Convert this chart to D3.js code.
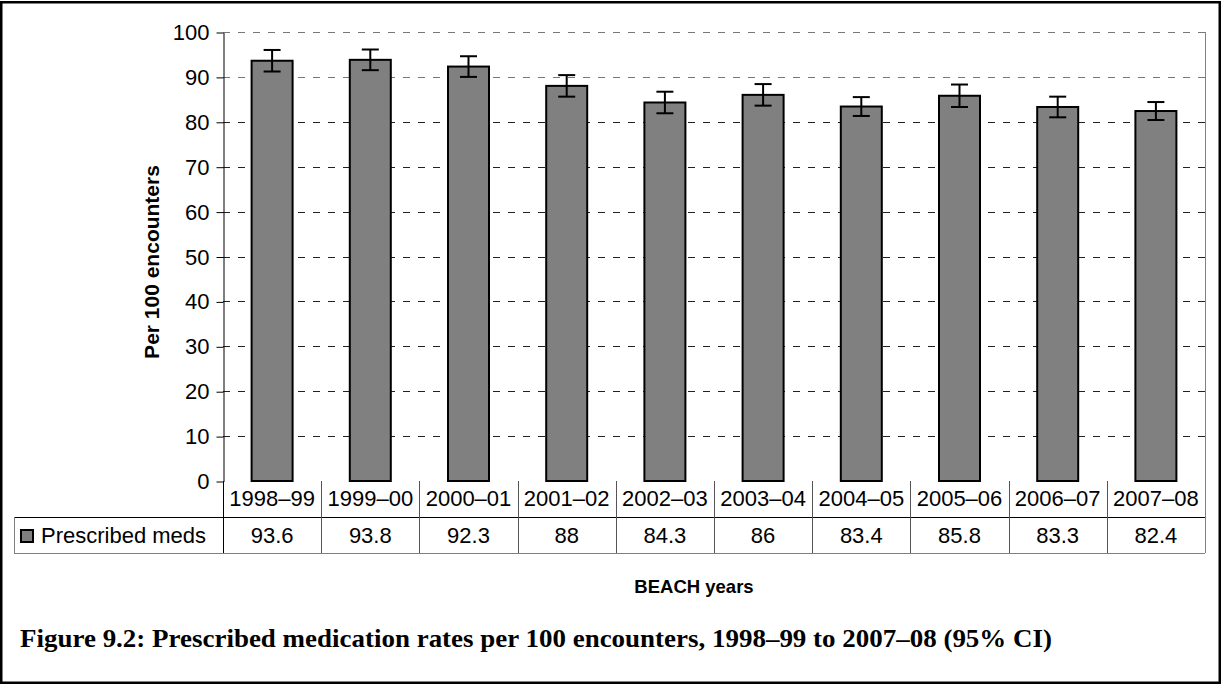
<!DOCTYPE html>
<html>
<head>
<meta charset="utf-8">
<script src="https://cdn.jsdelivr.net/npm/d3@7"></script>
<style>
  body { margin: 0; background: #fff; }
  text { font-family: Arial, "Liberation Sans", sans-serif; fill: #000; }
</style>
</head>
<body>
<svg id="chart"></svg>
<script>
  const width = 1223;
  const height = 684;

  // data
  const years = ["1998–99", "1999–00", "2000–01", "2001–02", "2002–03",
                 "2003–04", "2004–05", "2005–06", "2006–07", "2007–08"];
  const rates = [93.6, 93.8, 92.3, 88, 84.3, 86, 83.4, 85.8, 83.3, 82.4];
  const ciLower = [91.2, 91.5, 90.0, 85.6, 81.9, 83.6, 81.3, 83.3, 81.0, 80.4];
  const ciUpper = [96.0, 96.1, 94.6, 90.4, 86.7, 88.4, 85.5, 88.3, 85.6, 84.4];
  const yTicks = [0, 10, 20, 30, 40, 50, 60, 70, 80, 90, 100];
  const seriesName = "Prescribed meds";

  const plot = { left: 223, right: 1205, top: 32, bottom: 481 };
  const rowH = 36;
  const fs = 22;

  const svg = d3.select("#chart")
    .attr("width", width)
    .attr("height", height);

  // outer frame
  svg.append("rect")
    .attr("x", 1.25).attr("y", 2.25)
    .attr("width", 1218.5).attr("height", 680.5)
    .attr("fill", "none")
    .attr("stroke", "#000")
    .attr("stroke-width", 2.5);

  const x = d3.scaleBand()
    .domain(years)
    .range([plot.left, plot.right]);

  const y = d3.scaleLinear()
    .domain([0, 100])
    .range([plot.bottom, plot.top]);

  // gridlines
  svg.append("g")
    .selectAll("line")
    .data(yTicks.filter(d => d > 0))
    .enter()
    .append("line")
    .attr("x1", plot.left).attr("x2", plot.right)
    .attr("y1", d => Math.round(y(d)) + 0.5)
    .attr("y2", d => Math.round(y(d)) + 0.5)
    .attr("stroke", d => d >= 90 ? "#777" : "#222")
    .attr("stroke-dasharray", "7,8");

  // right border of plot + table
  svg.append("line")
    .attr("x1", plot.right + 0.5).attr("x2", plot.right + 0.5)
    .attr("y1", plot.top).attr("y2", plot.bottom + 2 * rowH)
    .attr("stroke", "#808080");

  // y axis
  const yAxis = svg.append("g")
    .attr("transform", `translate(${plot.left + 0.5},0.5)`)
    .call(d3.axisLeft(y).tickValues(yTicks).tickSize(7).tickPadding(7).tickSizeOuter(0));
  yAxis.select(".domain").attr("stroke", "#000");
  yAxis.selectAll(".tick line").attr("stroke", "#000");
  yAxis.selectAll(".tick text")
    .attr("font-size", fs)
    .attr("font-family", "Arial, 'Liberation Sans', sans-serif")
    .attr("fill", "#000");

  // bars
  const barW = 41;
  svg.append("g")
    .selectAll("rect")
    .data(years)
    .enter()
    .append("rect")
    .attr("x", d => x(d) + x.bandwidth() / 2 - barW / 2)
    .attr("y", (d, i) => y(rates[i]))
    .attr("width", barW)
    .attr("height", (d, i) => y(0) - y(rates[i]))
    .attr("fill", "#808080")
    .attr("stroke", "#000")
    .attr("stroke-width", 2);

  // error bars
  const capW = 17;
  const err = svg.append("g")
    .attr("stroke", "#000")
    .attr("stroke-width", 2);
  years.forEach((d, i) => {
    const cx = x(d) + x.bandwidth() / 2;
    err.append("line")
      .attr("x1", cx).attr("x2", cx)
      .attr("y1", y(ciLower[i])).attr("y2", y(ciUpper[i]));
    [ciLower[i], ciUpper[i]].forEach(v => {
      err.append("line")
        .attr("x1", cx - capW / 2).attr("x2", cx + capW / 2)
        .attr("y1", y(v)).attr("y2", y(v));
    });
  });

  // data table
  const table = svg.append("g");
  const row1 = plot.bottom, row2 = plot.bottom + rowH, row3 = plot.bottom + 2 * rowH;

  table.append("line")
    .attr("x1", 14).attr("x2", plot.right)
    .attr("y1", row2 + 0.5).attr("y2", row2 + 0.5)
    .attr("stroke", "#000");
  table.append("line")
    .attr("x1", 14).attr("x2", plot.right)
    .attr("y1", row3 + 0.5).attr("y2", row3 + 0.5)
    .attr("stroke", "#808080");
  table.append("line")
    .attr("x1", 14.5).attr("x2", 14.5)
    .attr("y1", row2).attr("y2", row3)
    .attr("stroke", "#808080");
  table.append("line")
    .attr("x1", plot.left + 0.5).attr("x2", plot.left + 0.5)
    .attr("y1", row1).attr("y2", row3)
    .attr("stroke", "#000");

  table.selectAll(".col")
    .data(years.slice(1))
    .enter()
    .append("line")
    .attr("x1", d => Math.round(x(d)) + 0.5)
    .attr("x2", d => Math.round(x(d)) + 0.5)
    .attr("y1", row1).attr("y2", row3)
    .attr("stroke", "#555");

  table.selectAll(".yr")
    .data(years)
    .enter()
    .append("text")
    .attr("x", d => x(d) + x.bandwidth() / 2)
    .attr("y", row1 + 25)
    .attr("text-anchor", "middle")
    .attr("font-size", fs)
    .text(d => d);

  table.selectAll(".val")
    .data(rates)
    .enter()
    .append("text")
    .attr("x", (d, i) => x(years[i]) + x.bandwidth() / 2)
    .attr("y", row2 + 26)
    .attr("text-anchor", "middle")
    .attr("font-size", fs)
    .text(d => d);

  // legend key
  table.append("rect")
    .attr("x", 21).attr("y", row2 + 13)
    .attr("width", 12).attr("height", 12)
    .attr("fill", "#808080")
    .attr("stroke", "#000")
    .attr("stroke-width", 2);
  table.append("text")
    .attr("x", 41).attr("y", row2 + 26)
    .attr("font-size", fs)
    .text(seriesName);

  // axis titles
  svg.append("text")
    .attr("transform", "translate(159,262) rotate(-90)")
    .attr("text-anchor", "middle")
    .attr("font-size", 21)
    .attr("font-weight", "bold")
    .text("Per 100 encounters");

  svg.append("text")
    .attr("x", 694).attr("y", 593)
    .attr("text-anchor", "middle")
    .attr("font-size", 18.5)
    .attr("font-weight", "bold")
    .text("BEACH years");

  // caption
  svg.append("text")
    .attr("x", 20).attr("y", 647)
    .style("font-family", "'Palatino Linotype', 'Book Antiqua', 'Liberation Serif', serif")
    .attr("font-size", 25)
    .attr("font-weight", "bold")
    .attr("textLength", 1032)
    .attr("lengthAdjust", "spacingAndGlyphs")
    .text("Figure 9.2: Prescribed medication rates per 100 encounters, 1998–99 to 2007–08 (95% CI)");
</script>
</body>
</html>
